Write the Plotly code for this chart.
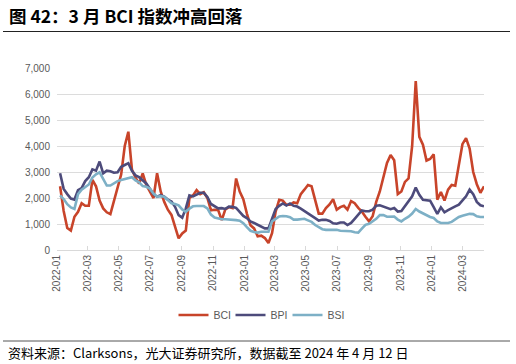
import pandas as pd
import plotly.graph_objects as go

# Weekly observation dates (Fridays)
dates = pd.date_range("2022-01-07", "2024-04-12", freq="7D")

bci = [2450, 1500, 850, 750, 1280, 1470, 1800, 1700, 1700, 2700,
       2450, 1900, 1600, 1450, 1380, 1900, 2350, 2900, 4000, 4550,
       3100, 2780, 2550, 2950, 2500, 2250, 2000, 2950, 2250, 1850,
       1550, 1350, 850, 450, 640, 750, 2000, 2100,
       2300, 2150,
       2220, 2000, 1530, 1550, 1540, 1150, 1560, 1650, 1610, 2750,
       2250, 1950, 1400, 950, 830, 530, 550, 460, 270, 650,
       1480, 1930, 1900, 1740, 1740, 1830, 1800, 2150, 2320, 2500,
       2450, 1950, 1400, 1400, 1610, 1750, 1950, 1550,
       1650, 1700,
       1550, 1880, 1800, 1620, 1480, 1280, 1100, 1300, 1850, 2250,
       2750, 3350, 3650, 3450, 2150, 2250, 2620, 2750, 4000, 6500,
       4350, 4050, 3440, 3500, 3680, 1935, 2230, 1900, 2320, 2500,
       2470, 3220, 4070, 4300, 3900, 3000, 2530, 2200, 2450]

bpi = [2950, 2350, 2150, 1980, 1940, 2300, 2380, 2650, 2800, 3100,
       3050, 3400, 2950, 3050, 3030, 2970, 2990, 3200, 3270, 3340,
       3050, 2870, 2800, 2660, 2560, 2360, 2150, 2050, 2110, 2050,
       1940, 1870, 1660, 1340, 1240, 1600, 2100, 2060,
       2120, 2200,
       2200, 2040, 1770, 1680, 1600, 1610, 1580, 1670, 1660, 1620,
       1470, 1310, 1225, 1100, 1040, 960, 880, 830, 830, 1200,
       1580, 1700, 1790, 1710, 1790, 1700, 1670, 1590, 1490, 1420,
       1320, 1225, 1130, 1160, 1160, 1120, 1030, 1010,
       1060, 1060,
       960, 1040, 1200, 1360, 1520, 1490, 1490, 1550, 1700, 1720,
       1660, 1615, 1570, 1615, 1480, 1500, 1680, 1880, 2065, 2400,
       2120, 1935, 1910, 1900, 1650, 1385, 1640, 1450, 1530, 1615,
       1680, 1745, 1900, 2065, 2320, 2150, 1850, 1720, 1680]

bsi = [2100, 1960, 1760, 1640, 1580, 2150, 2320, 2410, 2520, 2790,
       2910, 2990, 2750, 2480, 2480, 2570, 2650, 2690, 2720, 2760,
       2800, 2680, 2600, 2460, 2430, 2360, 2170, 2050, 2070, 2050,
       1920, 1800, 1770, 1720, 1560, 1470, 1590, 1680,
       1690, 1690,
       1690, 1600, 1360, 1250, 1210, 1185, 1185, 1180, 1160, 1150,
       1130, 1030, 880, 740, 690, 670, 700, 690, 700, 1100,
       1210, 1290, 1310, 1300, 1260, 1170, 1170, 1190, 1200, 1140,
       1080, 960, 870, 800, 775, 770, 760, 775,
       740, 730,
       720, 720, 680, 670, 820, 970, 1010, 1090, 1200, 1340,
       1340, 1280, 1290, 1290, 1170, 1100, 1200, 1280, 1400, 1575,
       1480, 1400, 1350, 1270, 1230, 1100, 1040, 1040, 1040, 1080,
       1190, 1270, 1320, 1345, 1390, 1380, 1295, 1270, 1270]

series_names = ["BCI", "BPI", "BSI"]
series_colors = ["#C8442A", "#4D4B7B", "#7DB0C6"]

title_text = "图 42：3 月 BCI 指数冲高回落"
source_text = "资料来源：Clarksons，光大证券研究所，数据截至 2024 年 4 月 12 日"

fig = go.Figure()
for name, vals, col in zip(series_names, [bci, bpi, bsi], series_colors):
    fig.add_trace(go.Scatter(x=dates, y=vals, mode="lines", name=name,
                             line=dict(color=col, width=2.6)))

W, H = 516, 364
ml, mr, mt, mb = 57, 32, 68, 114
pw, ph = W - ml - mr, H - mt - mb


def px(xp):
    return (xp - ml) / pw


def py(yp):
    return (H - mb - yp) / ph


fig.update_layout(
    width=W, height=H,
    margin=dict(l=ml, r=mr, t=mt, b=mb),
    paper_bgcolor="white", plot_bgcolor="white",
    font=dict(family="Liberation Sans, Arial, sans-serif", color="#595959"),
    showlegend=True,
    legend=dict(orientation="h", x=px(259), xanchor="center", y=py(315), yanchor="middle",
                font=dict(size=10.5, color="#595959"), entrywidth=12, itemwidth=30),
    xaxis=dict(type="date", range=["2022-01-01", "2024-04-12"], tickformat="%Y-%m",
               dtick="M2", tick0="2022-01-01", tickangle=-90, ticks="inside", ticklen=4,
               tickcolor="#d9d9d9", showline=True, linecolor="#d9d9d9", showgrid=False,
               tickfont=dict(size=10, color="#595959"), fixedrange=True),
    yaxis=dict(range=[0, 7000], dtick=1000, tickformat=",", gridcolor="#dcdcdc",
               zeroline=False, showline=False, ticks="", ticklabelstandoff=6,
               tickfont=dict(size=10, color="#595959")),
)

fig.add_annotation(text="<b>" + title_text + "</b>", xref="paper", yref="paper",
                   x=px(7), y=py(16), xanchor="left", yanchor="middle", showarrow=False,
                   font=dict(family="Noto Sans CJK SC", size=17.5, color="#000000"))
fig.add_annotation(text=source_text, xref="paper", yref="paper",
                   x=px(6), y=py(352), xanchor="left", yanchor="middle", showarrow=False,
                   font=dict(family="Noto Sans CJK SC", size=13, color="#000000"))
fig.add_shape(type="line", xref="paper", yref="paper", x0=px(3), x1=px(510),
              y0=py(31.5), y1=py(31.5), line=dict(color="#222222", width=1.2))
fig.add_shape(type="line", xref="paper", yref="paper", x0=px(3), x1=px(510),
              y0=py(341), y1=py(341), line=dict(color="#555555", width=1))

fig.write_html("out.html", config={"displayModeBar": False},
               post_script="document.body.style.margin='0px';document.body.style.padding='0px';")
